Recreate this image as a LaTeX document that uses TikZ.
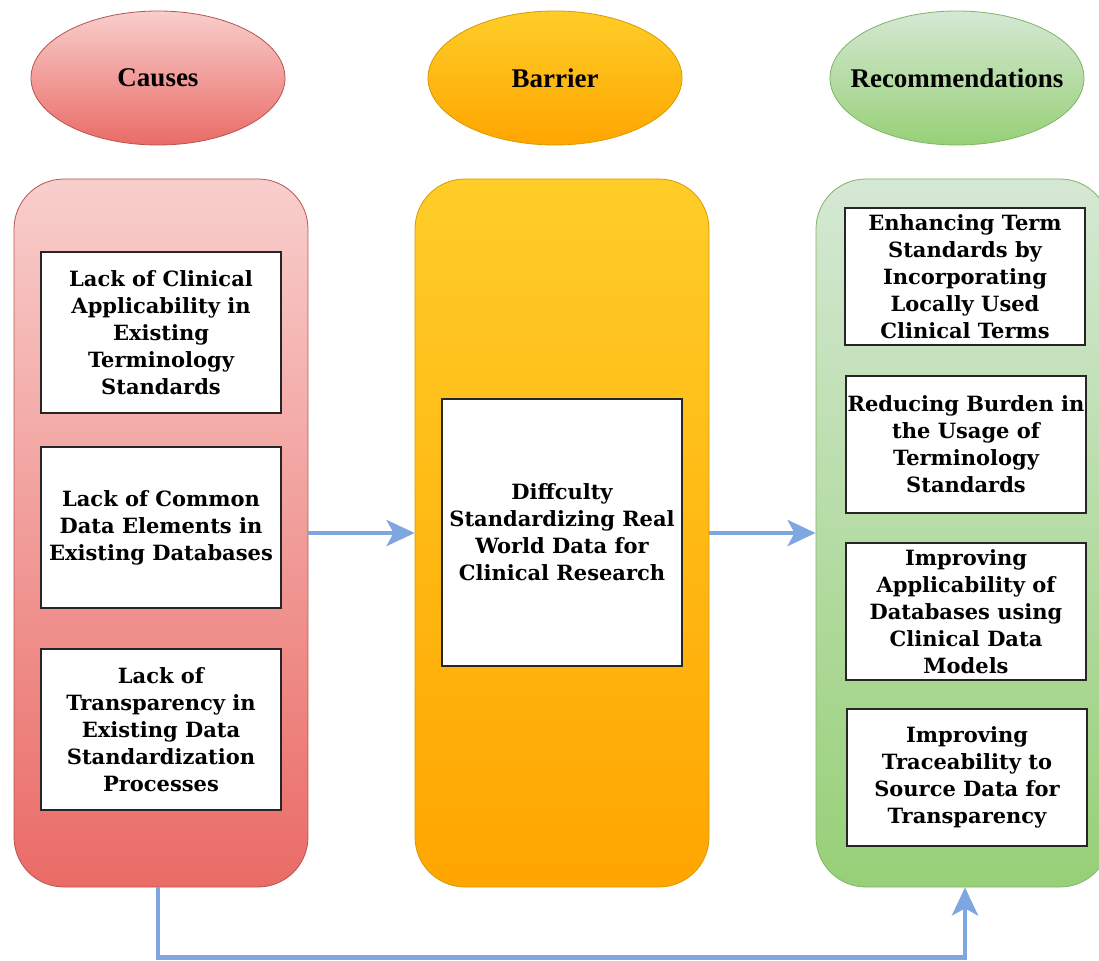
\documentclass[tikz,border=0pt]{standalone}
\usepackage{fontspec}
\setmainfont{Liberation Serif}
\newfontfamily\boxfont{DejaVu Serif}
\usetikzlibrary{shapes.geometric,arrows.meta}
\definecolor{redtop}{HTML}{F8CECC}
\definecolor{redbot}{HTML}{EA6B66}
\definecolor{redline}{HTML}{B85450}
\definecolor{ortop}{HTML}{FFCD28}
\definecolor{orbot}{HTML}{FFA500}
\definecolor{orline}{HTML}{D79B00}
\definecolor{grtop}{HTML}{D5E8D4}
\definecolor{grbot}{HTML}{97D077}
\definecolor{grline}{HTML}{82B366}
\definecolor{arrblue}{HTML}{7EA6E0}
\tikzset{
  hdr/.style={ellipse, minimum width=254pt, minimum height=134pt, inner sep=0pt, line width=0.8pt},
  hdrtext/.style={font=\fontsize{27}{30}\selectfont\bfseries, inner sep=0pt},
  column/.style={rectangle, rounded corners=50pt, minimum width=294pt, minimum height=708pt, inner sep=0pt, line width=0.8pt},
  redfill/.style={top color=redtop, bottom color=redbot, draw=redline},
  orfill/.style={top color=ortop, bottom color=orbot, draw=orline},
  grfill/.style={top color=grtop, bottom color=grbot, draw=grline},
  itembox/.style={rectangle, draw=black!85, line width=1.2pt, fill=white, minimum width=240pt, inner sep=0pt, align=center,
    font=\boxfont\fontsize{21}{27}\selectfont\bfseries},
  arr/.style={draw=arrblue, line width=4.5pt, -{Stealth[length=28pt,width=26pt,inset=7pt]}}
}
\begin{document}
\begin{tikzpicture}[x=1pt,y=1pt]
\useasboundingbox (0,0) rectangle (1099,-960);
% header ellipses
\node[hdr, redfill] (hc) at (158,-78) {};
\node[hdrtext] (hct) at (hc.center) {Causes};
\node[hdr, orfill] (hb) at (555,-78) {};
\node[hdrtext] (hbt) at (hb.center) {Barrier};
\node[hdr, grfill] (hr) at (957,-78) {};
\node[hdrtext] (hrt) at (hr.center) {Recommendations};
% columns
\node[column, redfill] (cbig) at (161,-533) {};
\node[column, orfill] (bbig) at (562,-533) {};
\node[column, grfill] (rbig) at (963,-533) {};
% causes items
\node[itembox, minimum height=161pt] (c1) at (161,-332.5) {Lack of Clinical\\Applicability in\\Existing\\Terminology\\Standards};
\node[itembox, minimum height=161pt] (c2) at (161,-527.5) {Lack of Common\\Data Elements in\\Existing Databases};
\node[itembox, minimum height=161pt] (c3) at (161,-729.5) {Lack of\\Transparency in\\Existing Data\\Standardization\\Processes};
% barrier item
\node[itembox, minimum height=267pt] (b1) at (562,-532.5) {Diffculty\\Standardizing Real\\World Data for\\Clinical Research};
% recommendation items
\node[itembox, minimum height=137pt] (r1) at (965,-276.5) {Enhancing Term\\Standards by\\Incorporating\\Locally Used\\Clinical Terms};
\node[itembox, minimum height=137pt] (r2) at (966,-444.5) {Reducing Burden in\\the Usage of\\Terminology\\Standards};
\node[itembox, minimum height=137pt] (r3) at (966,-611.5) {Improving\\Applicability of\\Databases using\\Clinical Data\\Models};
\node[itembox, minimum height=137pt] (r4) at (967,-777.5) {Improving\\Traceability to\\Source Data for\\Transparency};
% connectors
\draw[arr] (cbig.east) -- (bbig.west);
\draw[arr] (bbig.east) -- (rbig.west);
\draw[arr] ([xshift=-3pt]cbig.south) -- ++(0,-70) -| ([xshift=2pt]rbig.south);
\end{tikzpicture}
\end{document}
